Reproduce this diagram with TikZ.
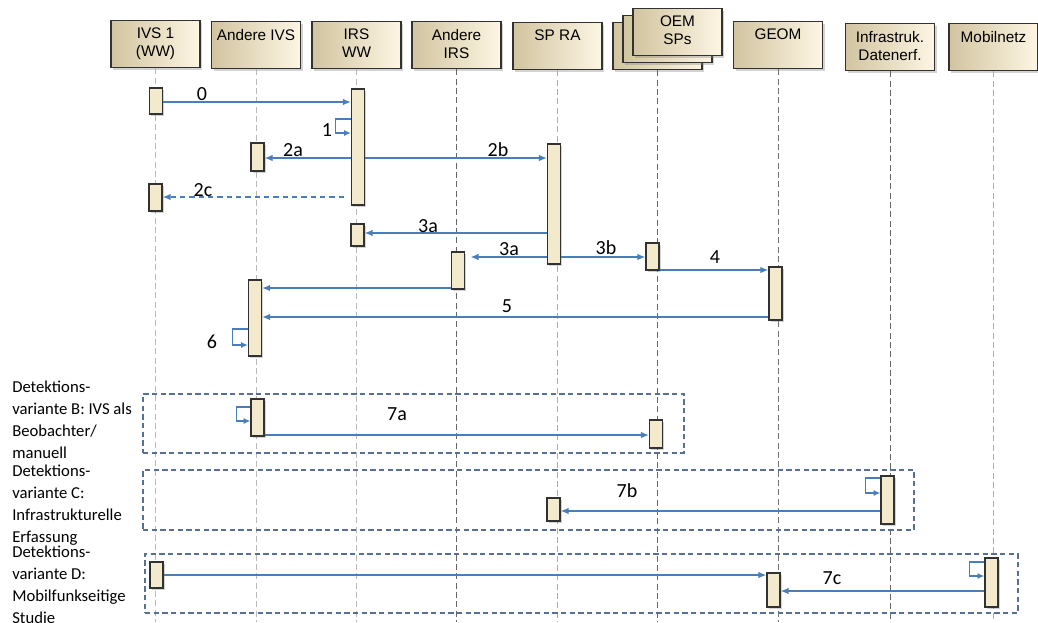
\documentclass[tikz,border=0pt]{standalone}
\usepackage{fontspec}
\setmainfont{Carlito}
\newfontfamily\headfont{Liberation Sans}
\usetikzlibrary{arrows.meta,fit,shadows}

\definecolor{msgblue}{RGB}{74,126,187}
\definecolor{framecol}{RGB}{88,112,150}
\definecolor{headL}{RGB}{210,196,160}
\definecolor{headR}{RGB}{253,246,228}
\definecolor{barfill}{RGB}{243,233,204}
\definecolor{edgecol}{RGB}{50,50,50}

\begin{document}
\begin{tikzpicture}[x=0.75pt,y=-0.75pt]
\tikzset{head/.style={draw=edgecol,line width=1.1pt,left color=headL,right color=headR,minimum width=66.75pt,minimum height=35.25pt,inner sep=0pt,anchor=north,font=\headfont\fontsize{11.5}{13.5}\selectfont,drop shadow={opacity=0.35,shadow xshift=1.5pt,shadow yshift=-1.5pt}}}
\tikzset{life/.style={draw=gray!60,line width=0.6pt,dash pattern=on 4.5pt off 2.5pt}}
\tikzset{bar/.style={draw=edgecol,line width=1.1pt,fill=barfill,inner sep=0pt,drop shadow={opacity=0.35,shadow xshift=1.2pt,shadow yshift=-1.2pt}}}
\tikzset{msg/.style={draw=msgblue,line width=0.9pt,-{Latex[length=6pt,width=5pt]}}}
\tikzset{selfmsg/.style={msg,line width=0.8pt,-{Latex[length=5pt,width=4.5pt]}}}
\tikzset{frame/.style={draw=framecol,line width=1pt,dash pattern=on 4pt off 2.5pt,inner sep=0pt}}
\tikzset{lbl/.style={font=\fontsize{15}{16}\selectfont,inner sep=0pt}}
\tikzset{note/.style={font=\fontsize{12.5}{16.5}\selectfont,align=left,anchor=north west,inner sep=0pt}}

\useasboundingbox (0,0) rectangle (1038,622);
\coordinate (bot) at (0,622);

% lifelines and heads
\foreach \nm/\x/\y/\col/\txt in {ivs/155.5/20/gray!55/{IVS 1\\(WW)}, andivs/256/21/gray!55/{Andere IVS}, irs/356.5/21/gray!55/{IRS\\WW}, andirs/456.5/21/black!60/{Andere\\IRS}, spra/557.5/22/gray!65/{SP RA}, geom/778/21/black!55/{GEOM}, infra/890/23/black!60/{Infrastruk.\\Datenerf.}, mobil/993.5/23/gray!65/{Mobilnetz}} {
  \node[head] (h\nm) at (\x,\y) {\parbox[c][24pt][t]{64pt}{\centering\txt}};
  \draw[life,draw=\col] (h\nm.south) -- (h\nm.south |- bot);
}
\node[head] (oemback) at (657.5,22) {};
\node[head] (oemmid) at (667.5,15) {};
\node[head] (hoem) at (677.5,8) {\parbox[c][24pt][t]{64pt}{\centering OEM\\SPs}};
\draw[life,draw=black!60] (oemback.south) -- (oemback.south |- bot);

% variant frames
\node[frame,fit={(143,394) (684,453)}] (fB) {};
\node[frame,fit={(143,470) (914,530)}] (fC) {};
\node[frame,fit={(145,554) (1018,613)}] (fD) {};

\node[note] (nB) at (12,381) {Detektions-\\variante B: IVS als\\Beobachter/\\manuell};
\node[note] (nC) at (12,465) {Detektions-\\variante C:\\Infrastrukturelle\\Erfassung};
\node[note] (nD) at (12,546) {Detektions-\\variante D:\\Mobilfunkseitige\\Studie};

% activation bars
\foreach \nm/\x/\ya/\yb in {ivsA/156/88/114, irsA/358/89/205, andivsA/257.5/143/171, ivsB/155.5/184/211, irsB/357.5/224/246, spraA/554/144/264, andirsA/458/252/289, oemA/652.5/243/270, geomA/775.5/267/320, andivsB/255/280/356, andivsC/257.5/399/436, oemB/656/420/448, infraA/887.5/476/524, spraB/553.5/498/521, ivsC/156.5/562/588, geomB/773.5/573/607, mobilA/991.5/558/607}
  \node[bar,fit={(\x-6.5,\ya) (\x+6.5,\yb)}] (\nm) {};

% message rows
\foreach \nm/\y in {r0/102, r1/119, r2/158, r3/197, r4/233, r5/257, r6/270, r7/288, r8/317, r9/329, r10/407, r11/435, r12/478, r13/511, r14/562, r15/575, r16/591}
  \coordinate (\nm) at (0,\y);

\draw[msg] (ivsA.east |- r0) -- (irsA.west |- r0);
\draw[selfmsg] (irsA.west |- r1) -- ++(-15,0) -- ++(0,14) -- ++(15,0);
\draw[msg] (irsA.west |- r2) -- (andivsA.east |- r2);
\draw[msg] (irsA.east |- r2) -- (spraA.west |- r2);
\draw[msg,dash pattern=on 4pt off 3pt,shorten <=5pt] (irsA.west |- r3) -- (ivsB.east |- r3);
\draw[msg] (spraA.west |- r4) -- (irsB.east |- r4);
\draw[msg,shorten >=4pt] (spraA.west |- r5) -- (andirsA.east |- r5);
\draw[msg] (spraA.east |- r5) -- (oemA.west |- r5);
\draw[msg] (oemA.east |- r6) -- (geomA.west |- r6);
\draw[msg] (andirsA.west |- r7) -- (andivsB.east |- r7);
\draw[msg] (geomA.west |- r8) -- (andivsB.east |- r8);
\draw[selfmsg] (andivsB.west |- r9) -- ++(-15,0) -- ++(0,16) -- ++(15,0);
\draw[selfmsg] (andivsC.west |- r10) -- ++(-14,0) -- ++(0,14) -- ++(14,0);
\draw[msg] (andivsC.east |- r11) -- (oemB.west |- r11);
\draw[selfmsg] (infraA.west |- r12) -- ++(-15,0) -- ++(0,15) -- ++(15,0);
\draw[msg] (infraA.west |- r13) -- (spraB.east |- r13);
\draw[selfmsg] (mobilA.west |- r14) -- ++(-15,0) -- ++(0,14) -- ++(15,0);
\draw[msg] (ivsC.east |- r15) -- (geomB.west |- r15);
\draw[msg] (mobilA.west |- r16) -- (geomB.east |- r16);

% message labels
\foreach \nm/\x/\y/\txt in {t0/202/94/0, t1/327/130/1, t2a/293/150/2a, t2b/498/150/2b, t2c/203/190/2c, t3a/428/226/3a, t3aa/509/249/3a, t3b/606/248/3b, t4/715/257/4, t5/507/306/5, t6/212/342/6, t7a/397/414/7a, t7b/627/491/7b, t7c/832/578/7c}
  \node[lbl] (\nm) at (\x,\y) {\txt};

\end{tikzpicture}
\end{document}
